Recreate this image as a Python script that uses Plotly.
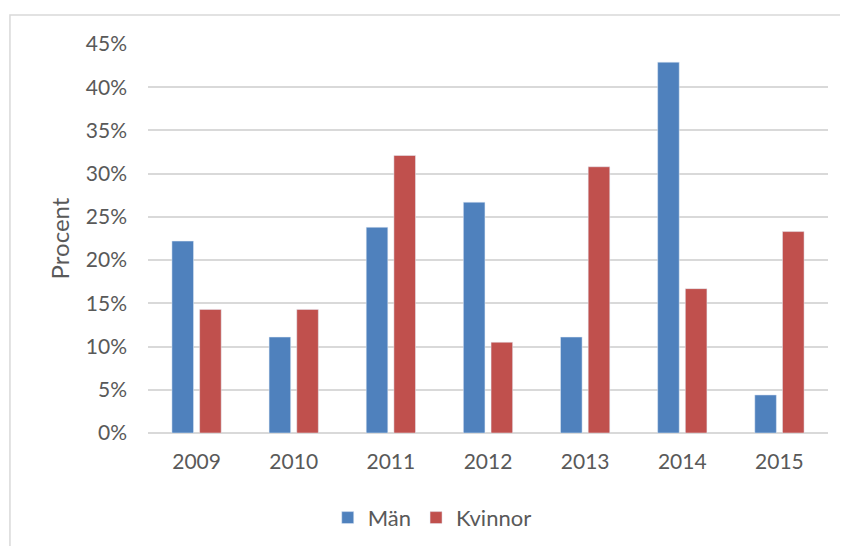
import plotly.graph_objects as go

years = ["2009", "2010", "2011", "2012", "2013", "2014", "2015"]
man = [0.222, 0.111, 0.238, 0.267, 0.111, 0.429, 0.044]
kvinnor = [0.143, 0.143, 0.321, 0.105, 0.308, 0.167, 0.233]

text_color = "#595959"
grid_color = "#D9D9D9"

fig = go.Figure()

fig.add_trace(go.Bar(x=years, y=man, name="Män", marker=dict(color="#4F81BD")))
fig.add_trace(go.Bar(x=years, y=kvinnor, name="Kvinnor", marker=dict(color="#C0504D")))

# outer chart frame, as in the original spreadsheet export
fig.add_shape(
    type="rect", xref="paper", yref="paper",
    x0=-0.203, x1=1.2, y0=-0.4, y1=1.0746,
    line=dict(color=grid_color, width=1.5), layer="below",
)

fig.update_layout(
    width=848,
    height=546,
    margin=dict(l=140, r=28, t=36, b=121),
    paper_bgcolor="white",
    plot_bgcolor="white",
    font=dict(family="Lato", size=21, color=text_color),
    barmode="group",
    bargap=0.43,
    bargroupgap=0.22,
    showlegend=True,
    legend=dict(
        orientation="h", x=0.418, xanchor="center", y=-0.218, yanchor="middle",
        font=dict(size=22), itemwidth=30,
    ),
    xaxis=dict(
        showgrid=False, ticks="", ticklabelstandoff=14,
        showline=False,
    ),
    yaxis=dict(
        range=[0, 0.45], dtick=0.05, tickformat=".0%",
        showgrid=True, gridcolor=grid_color, gridwidth=1.5,
        zeroline=True, zerolinecolor=grid_color, zerolinewidth=1.5,
        ticks="", ticklabelstandoff=20,
        title=dict(text="Procent", font=dict(size=24), standoff=9),
    ),
)

fig.write_html("out.html")
